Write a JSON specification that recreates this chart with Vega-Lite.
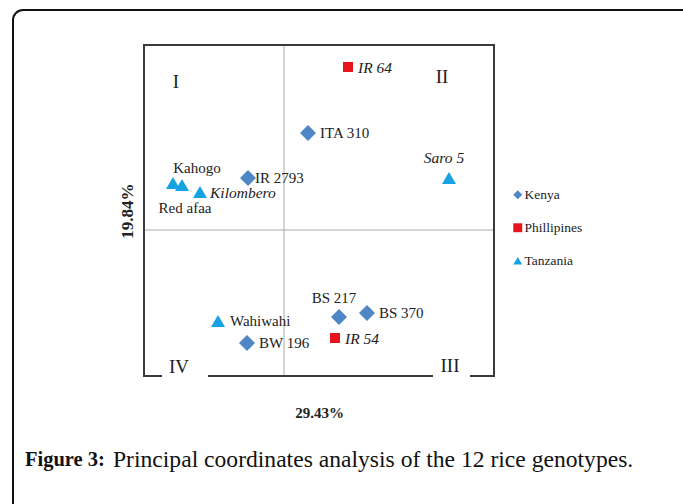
{
  "$schema": "https://vega.github.io/schema/vega-lite/v6.json",
  "width": 350,
  "height": 331,
  "autosize": {"type": "none"},
  "padding": {"left": 144, "top": 45, "right": 189, "bottom": 128},
  "background": "white",
  "config": {
    "view": {"stroke": null},
    "font": "Liberation Serif",
    "text": {"font": "Liberation Serif", "color": "#222"},
    "axis": {"domain": false, "ticks": false, "labels": false, "grid": false, "titleFont": "Liberation Serif", "titleFontWeight": "bold", "titleColor": "#222"},
    "axisX": {"titleFontSize": 15, "titlePadding": 29},
    "axisY": {"titleFontSize": 17, "titlePadding": 8},
    "scale": {"zero": false, "nice": false}
  },
  "datasets": {
    "genotypes": [
      {"genotype": "IR 64", "country": "Phillipines", "coord1": 0.256, "coord2": 0.652},
      {"genotype": "ITA 310", "country": "Kenya", "coord1": 0.096, "coord2": 0.388},
      {"genotype": "Saro 5", "country": "Tanzania", "coord1": 0.66, "coord2": 0.208},
      {"genotype": "IR 2793", "country": "Kenya", "coord1": -0.144, "coord2": 0.208},
      {"genotype": "Red afaa", "country": "Tanzania", "coord1": -0.444, "coord2": 0.188},
      {"genotype": "Kahogo", "country": "Tanzania", "coord1": -0.408, "coord2": 0.18},
      {"genotype": "Kilombero", "country": "Tanzania", "coord1": -0.336, "coord2": 0.152},
      {"genotype": "Wahiwahi", "country": "Tanzania", "coord1": -0.264, "coord2": -0.364},
      {"genotype": "BW 196", "country": "Kenya", "coord1": -0.148, "coord2": -0.452},
      {"genotype": "BS 217", "country": "Kenya", "coord1": 0.22, "coord2": -0.348},
      {"genotype": "BS 370", "country": "Kenya", "coord1": 0.332, "coord2": -0.332},
      {"genotype": "IR 54", "country": "Phillipines", "coord1": 0.204, "coord2": -0.432}
    ],
    "quadrants": [
      {"q": "I", "coord1": -0.432, "coord2": 0.592},
      {"q": "II", "coord1": 0.632, "coord2": 0.612},
      {"q": "III", "coord1": 0.664, "coord2": -0.544},
      {"q": "IV", "coord1": -0.42, "coord2": -0.548}
    ]
  },
  "layer": [
    {
      "data": {"name": "genotypes"},
      "transform": [{"filter": {"field": "country", "equal": "Kenya"}}],
      "mark": {"type": "point", "filled": true, "opacity": 1, "strokeWidth": 0, "size": 256},
      "encoding": {
        "x": {"field": "coord1", "type": "quantitative", "title": "29.43%", "scale": {"domain": [-0.56, 0.84]}},
        "y": {"field": "coord2", "type": "quantitative", "title": "19.84%", "scale": {"domain": [-0.584, 0.74]}},
        "color": {"field": "country", "type": "nominal",
                  "scale": {"domain": ["Kenya", "Phillipines", "Tanzania"], "range": ["#4f86c6", "#e8141b", "#17a2e2"]},
                  "legend": {"title": null, "orient": "none", "legendX": 367, "legendY": 143, "symbolSize": 80, "labelFont": "Liberation Serif", "labelFontSize": 13.5, "labelColor": "#222", "rowPadding": 18, "labelOffset": 0, "symbolStrokeWidth": 0}},
        "shape": {"field": "country", "type": "nominal",
                  "scale": {"domain": ["Kenya", "Phillipines", "Tanzania"], "range": ["diamond", "square", "triangle-up"]}}
      }
    },
    {
      "data": {"name": "genotypes"},
      "transform": [{"filter": {"field": "country", "equal": "Phillipines"}}],
      "mark": {"type": "point", "filled": true, "opacity": 1, "strokeWidth": 0, "size": 100},
      "encoding": {
        "x": {"field": "coord1", "type": "quantitative", "title": "29.43%", "scale": {"domain": [-0.56, 0.84]}},
        "y": {"field": "coord2", "type": "quantitative", "title": "19.84%", "scale": {"domain": [-0.584, 0.74]}},
        "color": {"field": "country", "type": "nominal"},
        "shape": {"field": "country", "type": "nominal"}
      }
    },
    {
      "data": {"name": "genotypes"},
      "transform": [{"filter": {"field": "country", "equal": "Tanzania"}}],
      "mark": {"type": "point", "filled": true, "opacity": 1, "strokeWidth": 0, "size": 196},
      "encoding": {
        "x": {"field": "coord1", "type": "quantitative", "title": "29.43%", "scale": {"domain": [-0.56, 0.84]}},
        "y": {"field": "coord2", "type": "quantitative", "title": "19.84%", "scale": {"domain": [-0.584, 0.74]}},
        "color": {"field": "country", "type": "nominal"},
        "shape": {"field": "country", "type": "nominal"}
      }
    },
    {
      "data": {"values": [{}]},
      "mark": {"type": "rect", "filled": false, "stroke": "#111", "strokeWidth": 2, "cornerRadius": 10},
      "encoding": {
        "x": {"datum": -1.084, "type": "quantitative", "title": "29.43%", "scale": {"domain": [-0.56, 0.84]}},
        "x2": {"datum": 1.8},
        "y": {"datum": 0.88, "type": "quantitative", "title": "19.84%", "scale": {"domain": [-0.584, 0.74]}},
        "y2": {"datum": -1.3}
      }
    },
    {
      "data": {"values": [{}]},
      "mark": {"type": "rule", "stroke": "#aaa", "strokeWidth": 1},
      "encoding": {
        "x": {"datum": 0, "type": "quantitative", "title": "29.43%", "scale": {"domain": [-0.56, 0.84]}},
        "y": {"datum": -0.584, "type": "quantitative", "title": "19.84%", "scale": {"domain": [-0.584, 0.74]}},
        "y2": {"datum": 0.74}
      }
    },
    {
      "data": {"values": [{}]},
      "mark": {"type": "rule", "stroke": "#aaa", "strokeWidth": 1},
      "encoding": {
        "y": {"datum": 0, "type": "quantitative", "title": "19.84%", "scale": {"domain": [-0.584, 0.74]}},
        "x": {"datum": -0.56, "type": "quantitative", "title": "29.43%", "scale": {"domain": [-0.56, 0.84]}},
        "x2": {"datum": 0.84}
      }
    },
    {
      "data": {"values": [{}]},
      "mark": {"type": "rule", "stroke": "#3a3a3a", "strokeWidth": 2},
      "encoding": {
        "x": {"datum": -0.56, "type": "quantitative", "title": "29.43%", "scale": {"domain": [-0.56, 0.84]}},
        "y": {"datum": -0.588, "type": "quantitative", "title": "19.84%", "scale": {"domain": [-0.584, 0.74]}},
        "y2": {"datum": 0.744}
      }
    },
    {
      "data": {"values": [{}]},
      "mark": {"type": "rule", "stroke": "#3a3a3a", "strokeWidth": 2},
      "encoding": {
        "x": {"datum": 0.84, "type": "quantitative", "title": "29.43%", "scale": {"domain": [-0.56, 0.84]}},
        "y": {"datum": -0.588, "type": "quantitative", "title": "19.84%", "scale": {"domain": [-0.584, 0.74]}},
        "y2": {"datum": 0.744}
      }
    },
    {
      "data": {"values": [{}]},
      "mark": {"type": "rule", "stroke": "#3a3a3a", "strokeWidth": 2},
      "encoding": {
        "y": {"datum": 0.74, "type": "quantitative", "title": "19.84%", "scale": {"domain": [-0.584, 0.74]}},
        "x": {"datum": -0.564, "type": "quantitative", "title": "29.43%", "scale": {"domain": [-0.56, 0.84]}},
        "x2": {"datum": 0.844}
      }
    },
    {
      "data": {"values": [{"s": -0.564, "e": -0.488}, {"s": -0.304, "e": 0.596}, {"s": 0.744, "e": 0.844}]},
      "mark": {"type": "rule", "stroke": "#3a3a3a", "strokeWidth": 2},
      "encoding": {
        "y": {"datum": -0.584, "type": "quantitative", "title": "19.84%", "scale": {"domain": [-0.584, 0.74]}},
        "x": {"field": "s", "type": "quantitative", "title": "29.43%", "scale": {"domain": [-0.56, 0.84]}},
        "x2": {"field": "e"}
      }
    },
    {
      "data": {"name": "quadrants"},
      "mark": {"type": "text", "fontSize": 19, "color": "#222"},
      "encoding": {
        "x": {"field": "coord1", "type": "quantitative", "title": "29.43%", "scale": {"domain": [-0.56, 0.84]}},
        "y": {"field": "coord2", "type": "quantitative", "title": "19.84%", "scale": {"domain": [-0.584, 0.74]}},
        "text": {"field": "q"}
      }
    },
    {
      "data": {"name": "genotypes"},
      "transform": [{"filter": {"field": "genotype", "oneOf": ["ITA 310", "Wahiwahi", "BW 196", "BS 370"]}}],
      "mark": {"type": "text", "align": "left", "dx": 12, "fontSize": 15},
      "encoding": {
        "x": {"field": "coord1", "type": "quantitative", "title": "29.43%", "scale": {"domain": [-0.56, 0.84]}},
        "y": {"field": "coord2", "type": "quantitative", "title": "19.84%", "scale": {"domain": [-0.584, 0.74]}},
        "text": {"field": "genotype"}
      }
    },
    {
      "data": {"name": "genotypes"},
      "transform": [{"filter": {"field": "genotype", "equal": "IR 2793"}}],
      "mark": {"type": "text", "align": "left", "dx": 7, "fontSize": 15},
      "encoding": {
        "x": {"field": "coord1", "type": "quantitative", "title": "29.43%", "scale": {"domain": [-0.56, 0.84]}},
        "y": {"field": "coord2", "type": "quantitative", "title": "19.84%", "scale": {"domain": [-0.584, 0.74]}},
        "text": {"field": "genotype"}
      }
    },
    {
      "data": {"name": "genotypes"},
      "transform": [{"filter": {"field": "genotype", "oneOf": ["IR 64", "IR 54", "Kilombero"]}}],
      "mark": {"type": "text", "align": "left", "dx": 10, "dy": 1, "fontSize": 15.5, "fontStyle": "italic"},
      "encoding": {
        "x": {"field": "coord1", "type": "quantitative", "title": "29.43%", "scale": {"domain": [-0.56, 0.84]}},
        "y": {"field": "coord2", "type": "quantitative", "title": "19.84%", "scale": {"domain": [-0.584, 0.74]}},
        "text": {"field": "genotype"}
      }
    },
    {
      "data": {"name": "genotypes"},
      "transform": [{"filter": {"field": "genotype", "equal": "Saro 5"}}],
      "mark": {"type": "text", "align": "center", "dx": -5, "dy": -20, "fontSize": 15.5, "fontStyle": "italic"},
      "encoding": {
        "x": {"field": "coord1", "type": "quantitative", "title": "29.43%", "scale": {"domain": [-0.56, 0.84]}},
        "y": {"field": "coord2", "type": "quantitative", "title": "19.84%", "scale": {"domain": [-0.584, 0.74]}},
        "text": {"field": "genotype"}
      }
    },
    {
      "data": {"name": "genotypes"},
      "transform": [{"filter": {"field": "genotype", "equal": "BS 217"}}],
      "mark": {"type": "text", "align": "center", "dx": -5, "dy": -19, "fontSize": 15},
      "encoding": {
        "x": {"field": "coord1", "type": "quantitative", "title": "29.43%", "scale": {"domain": [-0.56, 0.84]}},
        "y": {"field": "coord2", "type": "quantitative", "title": "19.84%", "scale": {"domain": [-0.584, 0.74]}},
        "text": {"field": "genotype"}
      }
    },
    {
      "data": {"name": "genotypes"},
      "transform": [{"filter": {"field": "genotype", "equal": "Kahogo"}}],
      "mark": {"type": "text", "align": "center", "dx": 15, "dy": -17, "fontSize": 15},
      "encoding": {
        "x": {"field": "coord1", "type": "quantitative", "title": "29.43%", "scale": {"domain": [-0.56, 0.84]}},
        "y": {"field": "coord2", "type": "quantitative", "title": "19.84%", "scale": {"domain": [-0.584, 0.74]}},
        "text": {"field": "genotype"}
      }
    },
    {
      "data": {"name": "genotypes"},
      "transform": [{"filter": {"field": "genotype", "equal": "Red afaa"}}],
      "mark": {"type": "text", "align": "center", "dx": 12, "dy": 25, "fontSize": 15},
      "encoding": {
        "x": {"field": "coord1", "type": "quantitative", "title": "29.43%", "scale": {"domain": [-0.56, 0.84]}},
        "y": {"field": "coord2", "type": "quantitative", "title": "19.84%", "scale": {"domain": [-0.584, 0.74]}},
        "text": {"field": "genotype"}
      }
    },
    {
      "data": {"values": [{"t": "Figure 3:"}]},
      "mark": {"type": "text", "align": "left", "font": "Liberation Serif", "fontSize": 20.5, "fontWeight": "bold", "color": "#111"},
      "encoding": {
        "x": {"datum": -1.036, "type": "quantitative", "title": "29.43%", "scale": {"domain": [-0.56, 0.84]}},
        "y": {"datum": -0.92, "type": "quantitative", "title": "19.84%", "scale": {"domain": [-0.584, 0.74]}},
        "text": {"field": "t"}
      }
    },
    {
      "data": {"values": [{"t": "Principal coordinates analysis of the 12 rice genotypes."}]},
      "mark": {"type": "text", "align": "left", "font": "Liberation Serif", "fontSize": 23.6, "color": "#111"},
      "encoding": {
        "x": {"datum": -0.684, "type": "quantitative", "title": "29.43%", "scale": {"domain": [-0.56, 0.84]}},
        "y": {"datum": -0.92, "type": "quantitative", "title": "19.84%", "scale": {"domain": [-0.584, 0.74]}},
        "text": {"field": "t"}
      }
    }
  ]
}
